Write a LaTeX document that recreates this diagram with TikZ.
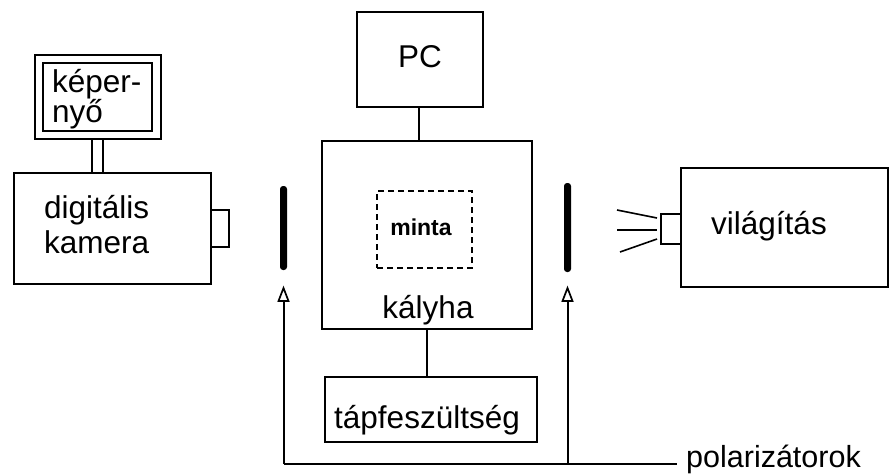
\documentclass[tikz,border=0pt]{standalone}
\usepackage{fontspec}
\setmainfont{Liberation Sans}
\usetikzlibrary{calc}
\begin{document}
\begin{tikzpicture}[x=1pt,y=-1pt,
  box/.style={draw,line width=2pt,inner sep=0pt,outer sep=0pt},
  polbar/.style={fill=black,rounded corners=3pt,minimum width=7pt,inner sep=0pt,outer sep=0pt},
  lbl/.style={inner sep=0pt,font=\fontsize{31.5}{36}\selectfont},
  conn/.style={line width=2pt},
  ray/.style={line width=1.6pt},
  ahead/.style={line width=1.7pt,fill=white,line join=miter}]
\useasboundingbox (0,0) rectangle (890,475);
% screen and camera
\node[box,minimum width=126pt,minimum height=84pt] (scrout) at (98,97) {};
\node[box,minimum width=109pt,minimum height=68pt] (scrin) at (97.5,97) {};
\node[box,minimum width=197pt,minimum height=111pt] (cam) at (112.5,228.5) {};
\node[box,minimum width=18pt,minimum height=37pt,anchor=west] (lens) at (cam.east |- 0,228.5) {};
\draw[conn] ([xshift=-6pt]scrout.south) -- ([xshift=-6pt]scrout.south |- cam.north);
\draw[conn] ([xshift=5pt]scrout.south) -- ([xshift=5pt]scrout.south |- cam.north);
\node[lbl,anchor=base west] (t1) at (52,92) {képer-};
\node[lbl,anchor=base west] (t2) at (52,122) {nyő};
\node[lbl,anchor=base west] (t3) at (44,218) {digitális};
\node[lbl,anchor=base west] (t4) at (44,253) {kamera};
% polarizers
\node[polbar,minimum height=84pt] (pol1) at (283.5,228) {};
\node[polbar,minimum height=89pt] (pol2) at (567.5,227.5) {};
% PC, stove, sample, power
\node[box,minimum width=126pt,minimum height=95pt] (pc) at (420,59.5) {};
\node[lbl,anchor=base] (tpc) at (420,67) {PC};
\node[box,minimum width=210pt,minimum height=188pt] (stove) at (427,235) {};
\node[box,dashed,dash pattern=on 6pt off 4pt,minimum width=95pt,minimum height=77pt] (minta) at (424.5,229.5) {};
\node[inner sep=0pt,anchor=base,font=\fontsize{23}{27}\selectfont\bfseries] (tminta) at (421,235) {minta};
\node[lbl,anchor=base] (tstove) at (428,318) {kályha};
\node[box,minimum width=212pt,minimum height=65pt] (tap) at (431,409.5) {};
\node[lbl,anchor=base west] (ttap) at (334,428) {tápfeszültség};
\draw[conn] ([xshift=-1pt]pc.south) -- ([xshift=-1pt]pc.south |- stove.north);
\draw[conn] (stove.south) -- (stove.south |- tap.north);
% lighting
\node[box,minimum width=207pt,minimum height=119pt] (light) at (784.5,227.5) {};
\node[box,minimum width=20pt,minimum height=30pt,anchor=east] (lamp) at (light.west |- 0,229) {};
\node[lbl,anchor=base west] (tlight) at (711,234) {világítás};
\coordinate (r1a) at (617,210); \coordinate (r1b) at (657,218);
\coordinate (r2a) at (617,230); \coordinate (r2b) at (657,230);
\coordinate (r3a) at (620,252); \coordinate (r3b) at (657,239);
\draw[ray] (r1a) -- (r1b);
\draw[ray] (r2a) -- (r2b);
\draw[ray] (r3a) -- (r3b);
% polarizer pointers
\coordinate (c1) at (283.5,464);
\coordinate (c2) at (567.5,464);
\coordinate (cend) at (677,464);
\coordinate (tip1) at ([yshift=-18pt]pol1.south);
\coordinate (tip2) at ([yshift=-16pt]pol2.south);
\node[lbl,anchor=base west,font=\fontsize{30.5}{36}\selectfont] (tpol) at (686,467.5) {polarizátorok};
\draw[conn] (c1) -- (cend);
\draw[conn] (c1) -- ([yshift=-13pt]tip1);
\draw[conn] (c2) -- ([yshift=-13pt]tip2);
\draw[ahead] (tip1) -- ++(-5,13) -- ++(10,0) -- cycle;
\draw[ahead] (tip2) -- ++(-5,13) -- ++(10,0) -- cycle;
\end{tikzpicture}
\end{document}
